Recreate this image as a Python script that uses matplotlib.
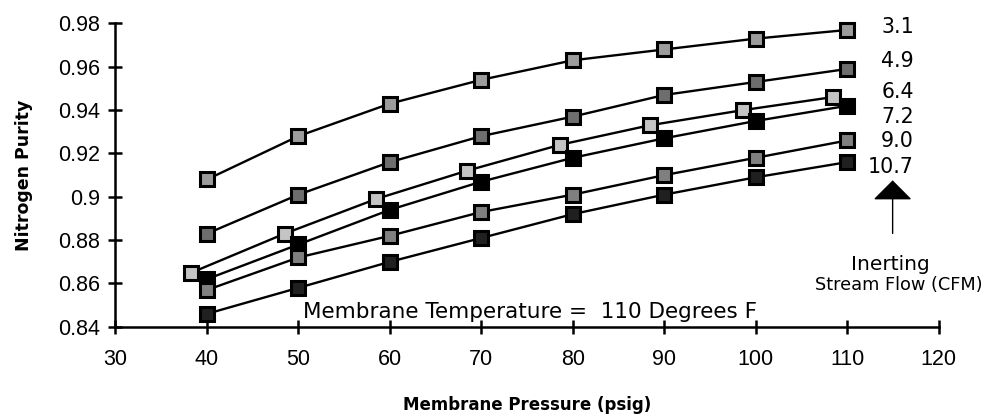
import matplotlib
matplotlib.use("Agg")
import matplotlib.pyplot as plt

# Data
flows = ["3.1", "4.9", "6.4", "7.2", "9.0", "10.7"]
pressure_std = [40, 50, 60, 70, 80, 90, 100, 110]
pressure_64 = [38.3, 48.5, 58.5, 68.4, 78.6, 88.4, 98.6, 108.4]
purity_31 = [0.908, 0.928, 0.943, 0.954, 0.963, 0.968, 0.973, 0.977]
purity_49 = [0.883, 0.901, 0.916, 0.928, 0.937, 0.947, 0.953, 0.959]
purity_64 = [0.865, 0.883, 0.899, 0.912, 0.924, 0.933, 0.940, 0.946]
purity_72 = [0.862, 0.878, 0.894, 0.907, 0.918, 0.927, 0.935, 0.942]
purity_90 = [0.857, 0.872, 0.882, 0.893, 0.901, 0.910, 0.918, 0.926]
purity_107 = [0.846, 0.858, 0.870, 0.881, 0.892, 0.901, 0.909, 0.916]

x_ticks = [30, 40, 50, 60, 70, 80, 90, 100, 110, 120]
y_ticks = [0.84, 0.86, 0.88, 0.90, 0.92, 0.94, 0.96, 0.98]
y_tick_labels = ["0.84", "0.86", "0.88", "0.9", "0.92", "0.94", "0.96", "0.98"]

series = [
    (pressure_std, purity_31, "#9c9c9c", 9.5),
    (pressure_std, purity_49, "#6e6e6e", 9.5),
    (pressure_64, purity_64, "#c4c4c4", 9.5),
    (pressure_std, purity_72, "#000000", 10.5),
    (pressure_std, purity_90, "#808080", 9.5),
    (pressure_std, purity_107, "#202020", 9.5),
]

fig = plt.figure(figsize=(9.87, 4.19), dpi=100)
ax = fig.add_axes([0.117, 0.220, 0.834, 0.724])

for xs, ys, fc, ms in series:
    ax.plot(xs, ys, color="black", lw=1.7, marker="s", markersize=ms,
            markerfacecolor=fc, markeredgecolor="black", markeredgewidth=2.2,
            zorder=3, clip_on=False)

ax.set_xlim(30, 120)
ax.set_ylim(0.84, 0.98)
ax.set_xticks(x_ticks)
ax.set_xticklabels([str(v) for v in x_ticks])
ax.set_yticks(y_ticks)
ax.set_yticklabels(y_tick_labels)

for s in ["top", "right"]:
    ax.spines[s].set_visible(False)
for s in ["left", "bottom"]:
    ax.spines[s].set_linewidth(1.8)

ax.tick_params(axis="both", direction="inout", length=10, width=1.8,
               labelsize=15.5)
ax.tick_params(axis="y", pad=6)
ax.tick_params(axis="x", pad=11)
for lab in ax.get_xticklabels() + ax.get_yticklabels():
    lab.set_family("Liberation Sans")

ax.set_xlabel("Membrane Pressure (psig)", fontsize=12, fontweight="bold",
              family="DejaVu Sans")
ax.xaxis.set_label_coords(0.5, -0.228)
ax.set_ylabel("Nitrogen Purity", fontsize=12.5, fontweight="bold",
              family="DejaVu Sans")
ax.yaxis.set_label_coords(-0.100, 0.5)

# Right-hand flow labels
label_y = [0.9755, 0.9598, 0.9455, 0.9339, 0.9228, 0.9108]
for txt, yv in zip(flows, label_y):
    ax.text(117.3, yv, txt, fontsize=14.8, ha="right", va="baseline",
            family="DejaVu Sans", color="black")

# Arrow
ax.annotate("", xy=(114.97, 0.9076), xytext=(114.97, 0.8831),
            arrowprops=dict(arrowstyle="-|>,head_length=1.0,head_width=1.0",
                            mutation_scale=12.5, shrinkA=0, shrinkB=0,
                            color="black", lw=1.0), annotation_clip=False)

ax.text(114.7, 0.8663, "Inerting", fontsize=14.5, ha="center", va="baseline",
        family="DejaVu Sans")
ax.text(124.8, 0.8570, "Stream Flow (CFM)", fontsize=12.8, ha="right",
        va="baseline", family="DejaVu Sans")
ax.text(50.5, 0.8443, "Membrane Temperature =  110 Degrees F", fontsize=15.5,
        ha="left", va="baseline", family="DejaVu Sans")

fig.savefig("out.png", dpi=100)
